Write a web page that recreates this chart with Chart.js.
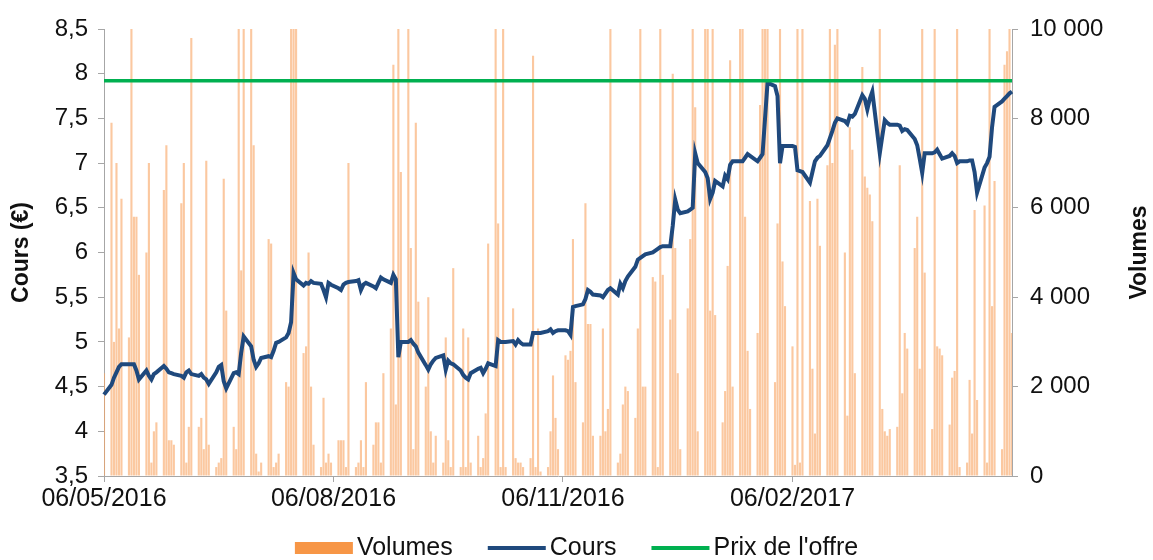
<!DOCTYPE html>
<html>
<head>
<meta charset="utf-8">
<script src="https://cdn.jsdelivr.net/npm/chart.js@4/dist/chart.umd.min.js"></script>
<style>
  html, body { margin: 0; padding: 0; background: #fff; }
</style>
</head>
<body>
<canvas id="chart" width="1153" height="560"></canvas>
<script>
// calendar range of the x axis (date axis: one slot per calendar day)
const startDate = [2016, 4, 6]   // 06/05/2016
const endDate = [2017, 4, 5]     // 05/05/2017
const tickLabels = ['06/05/2016', '06/08/2016', '06/11/2016', '06/02/2017']
const offerPrice = 7.92

// closing price, one value per trading day (Mon-Fri), starting Fri 06/05/2016
const cours = [
  4.41,
  4.52, 4.60, 4.66, 4.72, 4.75,
  4.75, 4.75, 4.75, 4.68, 4.58,
  4.68, 4.62, 4.58, 4.64, 4.66,
  4.73, 4.70, 4.66, 4.65, 4.64,
  4.62, 4.60, 4.66, 4.68, 4.64,
  4.62, 4.64, 4.60, 4.58, 4.53,
  4.66, 4.72, 4.74, 4.56, 4.48,
  4.65, 4.66, 4.64, 4.88, 5.06,
  4.95, 4.80, 4.72, 4.76, 4.82,
  4.84, 4.83, 4.90, 4.99, 5.00,
  5.05, 5.10, 5.22, 5.77, 5.70,
  5.63, 5.66, 5.65, 5.68, 5.66,
  5.65, 5.58, 5.50, 5.66, 5.64,
  5.60, 5.58, 5.64, 5.66, 5.67,
  5.68, 5.69, 5.58, 5.64, 5.66,
  5.62, 5.60, 5.66, 5.72, 5.70,
  5.66, 5.75, 5.70, 4.83, 5.00,
  5.00, 5.02, 4.98, 4.95, 4.88,
  4.74, 4.69, 4.75, 4.79, 4.82,
  4.85, 4.69, 4.79, 4.76, 4.75,
  4.68, 4.63, 4.60, 4.58, 4.65,
  4.70, 4.71, 4.65, 4.70, 4.76,
  4.73, 5.02, 5.00, 5.00, 5.00,
  5.01, 4.97, 5.02, 4.99, 4.97,
  4.97, 5.10, 5.10, 5.10, 5.10,
  5.12, 5.14, 5.10, 5.12, 5.13,
  5.13, 5.12, 5.08, 5.39, 5.40,
  5.42, 5.48, 5.58, 5.56, 5.53,
  5.52, 5.50, 5.54, 5.58, 5.60,
  5.53, 5.65, 5.60, 5.68, 5.73,
  5.84, 5.92, 5.94, 5.96, 5.98,
  6.00, 6.02, 6.04, 6.06, 6.07,
  6.07, 6.30, 6.59, 6.48, 6.44,
  6.46, 6.48, 6.50, 7.11, 7.00,
  6.90, 6.83, 6.60, 6.67, 6.80,
  6.74, 6.86, 6.82, 6.98, 7.02,
  7.02, 7.02, 7.06, 7.10, 7.08,
  7.02, 7.06, 7.10, 7.50, 7.90,
  7.86, 7.75, 7.00, 7.19, 7.19,
  7.19, 7.18, 6.92, 6.91, 6.90,
  6.78, 6.90, 7.02, 7.06, 7.08,
  7.20, 7.28, 7.36, 7.45, 7.50,
  7.47, 7.44, 7.53, 7.52, 7.55,
  7.76, 7.72, 7.60, 7.72, 7.80,
  7.11, 7.30, 7.48, 7.45, 7.43,
  7.43, 7.42, 7.36, 7.38, 7.37,
  7.27, 7.20, 7.05, 6.89, 7.11,
  7.11, 7.12, 7.15, 7.10, 7.05,
  7.08, 7.11, 7.08, 7.00, 7.02,
  7.02, 7.03, 7.03, 6.90, 6.67,
  6.95, 7.00, 7.07, 7.40, 7.63,
  7.69, 7.72, 7.75, 7.78, 7.80
]

// traded volumes, one value per trading day
const volumes = [
  2300,
  7900, 3000, 7000, 3300, 6200,
  3100, 12000, 5800, 5800, 4500,
  5000, 7000, 300, 1000, 1200,
  6400, 7400, 800, 800, 700,
  6100, 7000, 300, 1100, 9800,
  1100, 1300, 600, 7050, 700,
  200, 300, 400, 6650, 3700,
  1100, 600, 12000, 4600, 12000,
  12000, 7400, 500, 100, 300,
  5300, 5200, 200, 300, 500,
  2100, 2000, 12000, 12000, 12000,
  2750, 2900, 5000, 2000, 700,
  200, 1750, 300, 500, 300,
  800, 800, 800, 200, 7000,
  200, 300, 800, 200, 2100,
  700, 1200, 1200, 300, 2300,
  3300, 9200, 1600, 12000, 6800,
  12000, 5100, 600, 7900, 3900,
  2000, 4000, 1000, 300, 900,
  300, 3100, 800, 200, 4650,
  200, 3300, 200, 3100, 300,
  900, 200, 400, 1400, 5200,
  12000, 5650, 200, 12000, 200,
  3750, 400, 300, 300, 200,
  400, 9400, 200, 3300, 100,
  200, 1000, 2250, 1300, 600,
  2700, 2600, 2800, 5300, 2100,
  1200, 6100, 3400, 3400, 900,
  900, 3300, 1000, 1500, 12000,
  300, 500, 1600, 2000, 1900,
  1300, 3300, 12000, 2000, 2000,
  4450, 4350, 200, 12000, 4500,
  3500, 9000, 5100, 2300, 600,
  3750, 5300, 12000, 8250, 1000,
  12000, 12000, 3700, 12000, 3600,
  1200, 1900, 4700, 9300, 2000,
  12000, 12000, 5800, 2800, 1500,
  3200, 8300, 12000, 12000, 12000,
  2100, 5650, 12000, 4800, 3800,
  2900, 250, 12000, 300, 12000,
  6150, 2400, 950, 6200, 5150,
  6950, 12000, 7000, 9650, 12000,
  5000, 1350, 7800, 7300, 2300,
  9150, 6700, 6450, 6300, 5700,
  12000, 1500, 1000, 900, 1050,
  1100, 6950, 1850, 3200, 2850,
  5100, 5800, 2400, 12000, 4550,
  1050, 12000, 2900, 2850, 2700,
  1150, 2200, 2350, 12000, 200,
  300, 2150, 950, 5950, 1700,
  6050, 300, 12000, 3800, 6600,
  600, 9200, 9500, 12000, 3200
]

const TEXT = '#111111'
const AXIS = '#a6a6a6'
const FONT = '"Liberation Sans", Arial, sans-serif'

function pad(n) { return n < 10 ? '0' + n : '' + n }

// build the calendar labels and spread the trading-day values over them
const labels = []
const volData = []
const coursData = []
let d = new Date(startDate[0], startDate[1], startDate[2])
const last = new Date(endDate[0], endDate[1], endDate[2])
let k = 0
while (d <= last) {
  labels.push(pad(d.getDate()) + '/' + pad(d.getMonth() + 1) + '/' + d.getFullYear())
  const wd = d.getDay()
  if (wd == 0 || wd == 6) {
    volData.push(null)
    coursData.push(null)
  } else {
    volData.push(volumes[k])
    coursData.push(cours[k])
    k = k + 1
  }
  d.setDate(d.getDate() + 1)
}
const offerData = labels.map(() => offerPrice)

// rotated axis titles, both reading bottom to top
const axisTitles = {
  id: 'axisTitles',
  afterDraw(chart) {
    const ctx = chart.ctx
    const area = chart.chartArea
    const mid = (area.top + area.bottom) / 2
    ctx.save()
    ctx.font = 'bold 23px ' + FONT
    ctx.fillStyle = TEXT
    ctx.textAlign = 'center'
    ctx.textBaseline = 'middle'
    const titles = [[22, 'Cours (€)'], [1140, 'Volumes']]
    for (const t of titles) {
      ctx.save()
      ctx.translate(t[0], mid)
      ctx.rotate(-Math.PI / 2)
      ctx.fillText(t[1], 0, 0)
      ctx.restore()
    }
    ctx.restore()
  }
}

// legend under the axis: wide swatch, small gap, label
const bottomLegend = {
  id: 'bottomLegend',
  afterDraw(chart) {
    const ctx = chart.ctx
    ctx.save()
    ctx.font = '25px ' + FONT
    ctx.textBaseline = 'middle'
    const swatchW = 58
    const gap = 4
    const itemGap = 35
    const items = chart.data.datasets.map(ds => ({
      label: ds.label,
      color: ds.legendColor,
      bar: ds.type == 'bar',
      w: swatchW + gap + ctx.measureText(ds.label).width
    }))
    let total = 0
    items.forEach((it, i) => { total += it.w + (i > 0 ? itemGap : 0) })
    let x = (chart.width - total) / 2
    const y = 548
    for (const it of items) {
      if (it.bar) {
        ctx.fillStyle = it.color
        ctx.fillRect(x, y - 6, swatchW, 12)
      } else {
        ctx.strokeStyle = it.color
        ctx.lineWidth = 4
        ctx.beginPath()
        ctx.moveTo(x, y)
        ctx.lineTo(x + swatchW, y)
        ctx.stroke()
      }
      ctx.fillStyle = TEXT
      ctx.fillText(it.label, x + swatchW + gap, y)
      x += it.w + itemGap
    }
    ctx.restore()
  }
}

const config = {
  data: {
    labels: labels,
    datasets: [
      {
        type: 'bar',
        label: 'Volumes',
        data: volData,
        yAxisID: 'yVol',
        backgroundColor: 'rgba(248, 163, 97, 0.6)',
        legendColor: '#f79646',
        borderWidth: 0,
        barPercentage: 0.85,
        categoryPercentage: 1,
        order: 3
      },
      {
        type: 'line',
        label: 'Cours',
        data: coursData,
        yAxisID: 'y',
        borderColor: '#1f497d',
        legendColor: '#1f497d',
        borderWidth: 4,
        pointRadius: 0,
        tension: 0,
        spanGaps: true,
        order: 2
      },
      {
        type: 'line',
        label: "Prix de l'offre",
        data: offerData,
        yAxisID: 'y',
        borderColor: '#00b050',
        legendColor: '#00b050',
        borderWidth: 3.5,
        pointRadius: 0,
        order: 1
      }
    ]
  },
  options: {
    responsive: false,
    animation: false,
    events: [],
    layout: { padding: { left: 0, right: 0, top: 29, bottom: 38 } },
    scales: {
      x: {
        type: 'category',
        offset: false,
        grid: { display: true, drawOnChartArea: false, offset: false, tickLength: 6, color: AXIS },
        border: { display: true, color: AXIS },
        ticks: { autoSkip: false, maxRotation: 0, padding: 2, color: TEXT, font: { family: FONT, size: 25 } },
        afterBuildTicks(scale) {
          scale.ticks = scale.ticks.filter(t => tickLabels.includes(labels[t.value]))
        },
        afterFit(scale) { scale.height = 46 }
      },
      y: {
        position: 'left',
        min: 3.5,
        max: 8.5,
        ticks: {
          stepSize: 0.5,
          color: TEXT,
          padding: 10,
          font: { family: FONT, size: 24 },
          callback: v => String(Math.round(v * 10) / 10).replace('.', ',')
        },
        grid: { drawOnChartArea: false, tickLength: 6, color: AXIS },
        border: { display: true, color: AXIS },
        afterFit(scale) { scale.width = 104 }
      },
      yVol: {
        position: 'right',
        min: 0,
        max: 10000,
        ticks: {
          stepSize: 2000,
          color: TEXT,
          padding: 12,
          font: { family: FONT, size: 24 },
          callback: v => String(v).replace(/\B(?=(\d{3})+(?!\d))/g, ' ')
        },
        grid: { drawOnChartArea: false, tickLength: 6, color: AXIS },
        border: { display: true, color: AXIS },
        afterFit(scale) { scale.width = 141 }
      }
    },
    plugins: {
      tooltip: { enabled: false },
      legend: { display: false }
    }
  },
  plugins: [axisTitles, bottomLegend]
}

const myChart = new Chart(document.getElementById('chart'), config)
</script>
</body>
</html>
